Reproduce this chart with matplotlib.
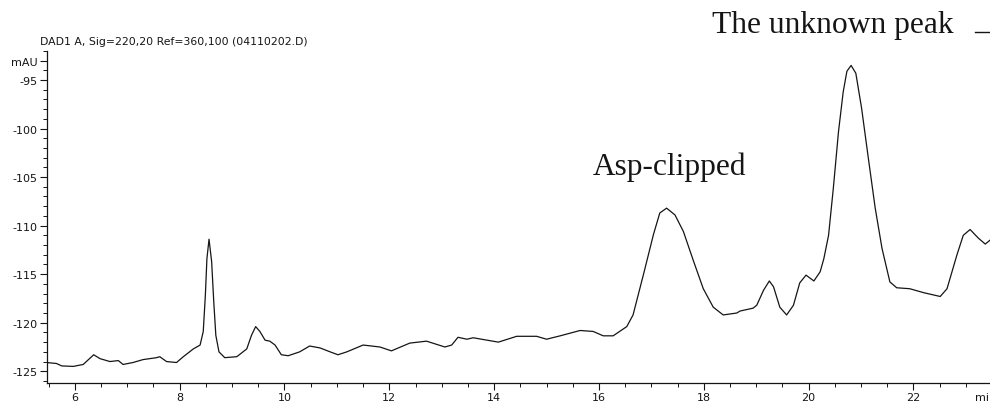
import numpy as np
import matplotlib.pyplot as plt
from matplotlib.lines import Line2D
from matplotlib.ticker import MultipleLocator

INK = "#151515"

# retention time (min) and signal (mAU)
time_min = [5.46, 5.65, 5.75, 5.97, 6.16, 6.36, 6.48, 6.67, 6.83, 6.92,
            7.11, 7.30, 7.56, 7.62, 7.75, 7.94, 8.07, 8.26, 8.39, 8.45,
            8.49, 8.52, 8.56, 8.61, 8.65, 8.69, 8.75, 8.86, 9.09, 9.28,
            9.37, 9.45, 9.53, 9.63, 9.72, 9.82, 9.94, 10.07, 10.29, 10.48,
            10.68, 10.87, 11.02, 11.19, 11.50, 11.82, 12.04, 12.39, 12.71, 13.06,
            13.19, 13.31, 13.48, 13.60, 14.08, 14.43, 14.81, 15.00, 15.26, 15.64,
            15.89, 16.08, 16.27, 16.53, 16.65, 16.85, 17.04, 17.16, 17.29, 17.45,
            17.61, 17.80, 17.99, 18.18, 18.37, 18.63, 18.69, 18.94, 19.01, 19.14,
            19.25, 19.33, 19.45, 19.58, 19.71, 19.83, 19.95, 20.10, 20.22, 20.29,
            20.38, 20.47, 20.57, 20.66, 20.73, 20.81, 20.90, 21.01, 21.14, 21.27,
            21.40, 21.55, 21.68, 21.93, 22.19, 22.51, 22.64, 22.83, 22.95, 23.08,
            23.24, 23.37, 23.46]
signal = [-124.1, -124.2, -124.45, -124.5, -124.3, -123.3, -123.7, -124.0, -123.9, -124.3,
          -124.1, -123.8, -123.6, -123.5, -124.0, -124.1, -123.5, -122.7, -122.3, -120.9,
          -117.2, -113.4, -111.4, -113.7, -117.8, -121.3, -123.0, -123.6, -123.5, -122.7,
          -121.3, -120.4, -120.9, -121.8, -121.9, -122.3, -123.3, -123.4, -123.0, -122.4,
          -122.6, -123.0, -123.3, -123.0, -122.3, -122.5, -122.9, -122.1, -121.9, -122.5,
          -122.3, -121.5, -121.7, -121.55, -122.0, -121.4, -121.4, -121.7, -121.35, -120.8,
          -120.9, -121.35, -121.35, -120.4, -119.2, -115.0, -110.9, -108.7, -108.2, -108.9,
          -110.6, -113.6, -116.5, -118.4, -119.2, -119.0, -118.8, -118.5, -118.2, -116.65,
          -115.7, -116.3, -118.4, -119.2, -118.2, -115.9, -115.1, -115.7, -114.75, -113.4,
          -111.0, -106.2, -100.3, -96.2, -94.1, -93.5, -94.3, -97.9, -103.1, -108.2,
          -112.35, -115.8, -116.4, -116.5, -116.9, -117.3, -116.5, -113.0, -111.0, -110.4,
          -111.3, -111.9, -111.5]

x_ticks = [6, 8, 10, 12, 14, 16, 18, 20, 22]
y_ticks = [-125, -120, -115, -110, -105, -100, -95]

plt.rcParams["font.family"] = ["DejaVu Sans"]

fig = plt.figure(figsize=(9.9, 4.02), dpi=100)
ax = fig.add_axes([0.047, 0.045, 0.953, 0.826])

ax.plot(time_min, signal, color=INK, linewidth=0.9, solid_joinstyle="round")

ax.set_xlim(5.46, 23.46)
ax.set_ylim(-126.2, -92.0)

ax.set_xticks(x_ticks)
ax.set_xticklabels([str(t) for t in x_ticks])
ax.set_yticks(y_ticks + [-93])
ax.set_yticklabels([str(v) for v in y_ticks] + ["mAU"])
ax.xaxis.set_minor_locator(MultipleLocator(0.5))
ax.yaxis.set_minor_locator(MultipleLocator(1))
ax.tick_params(axis="both", which="major", length=5, width=0.8, color=INK,
               labelsize=8, labelcolor=INK, pad=1.5)
ax.tick_params(axis="both", which="minor", length=3, width=0.7, color=INK)

for side in ["top", "right"]:
    ax.spines[side].set_visible(False)
for side in ["left", "bottom"]:
    ax.spines[side].set_linewidth(0.9)
    ax.spines[side].set_color(INK)

# axis unit at the right end of the time axis (cut by the frame)
ax.text(23.17, -127.1, "min", fontsize=8, color=INK,
        ha="left", va="top", clip_on=False)

fig.text(0.040, 0.895, "DAD1 A, Sig=220,20 Ref=360,100 (04110202.D)",
         fontsize=7.8, color=INK, ha="left", va="center")

serif = ["Liberation Serif", "DejaVu Serif"]
fig.text(0.719, 0.918, "The unknown peak", family=serif, fontsize=22.7,
         color=INK, ha="left", va="baseline")
fig.text(0.599, 0.565, "Asp-clipped", family=serif, fontsize=22.6,
         color=INK, ha="left", va="baseline")
fig.add_artist(Line2D([0.985, 1.0], [0.919, 0.919], color=INK, linewidth=1.0))

plt.savefig("out.png", dpi=100)
plt.close()
